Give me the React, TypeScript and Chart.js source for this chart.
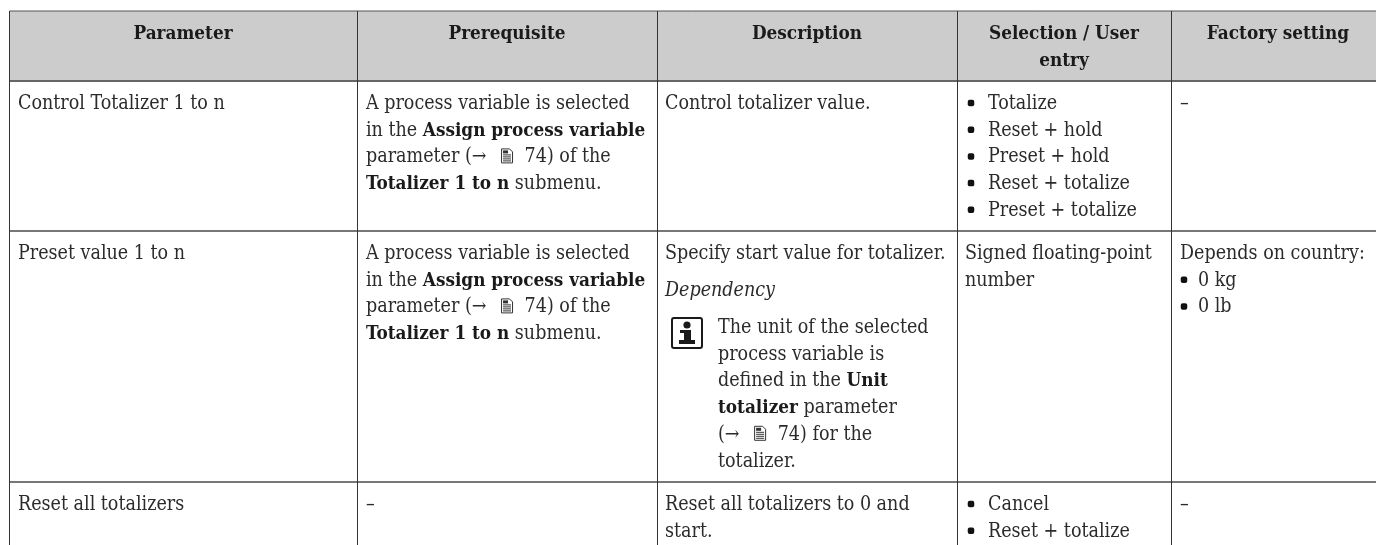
import React, { useEffect, useRef } from "react";
import { Chart, registerables } from "chart.js";

Chart.register(...registerables);

// ---- table content ----
const columnHeaders = ["Parameter", "Prerequisite", "Description", "Selection / User|entry", "Factory setting"];
const parameterNames = ["Control Totalizer 1 to n", "Preset value 1 to n", "Reset all totalizers"];
const prerequisiteLines = [
  "A process variable is selected",
  "in the **Assign process variable**",
  "parameter (→ {doc} 74) of the",
  "**Totalizer 1 to n** submenu.",
];
const noPrerequisite = "–";
const controlDescription = "Control totalizer value.";
const presetDescription = "Specify start value for totalizer.";
const dependencyLabel = "Dependency";
const presetNoteLines = [
  "The unit of the selected",
  "process variable is",
  "defined in the **Unit**",
  "**totalizer** parameter",
  "(→ {doc} 74) for the",
  "totalizer.",
];
const resetDescriptionLines = ["Reset all totalizers to 0 and", "start."];
const controlOptions = ["Totalize", "Reset + hold", "Preset + hold", "Reset + totalize", "Preset + totalize"];
const presetEntryLines = ["Signed floating-point", "number"];
const resetOptions = ["Cancel", "Reset + totalize"];
const factoryDash = "–";
const presetFactoryTitle = "Depends on country:";
const presetFactoryOptions = ["0 kg", "0 lb"];

// ---- table geometry (page pixels) ----
const WIDTH = 1376;
const HEIGHT = 545;
const columnEdges = [9.5, 357.5, 657.5, 957.5, 1171.5];
const tableRight = 1376;
const tableTop = 11;
const headerBottom = 81;
const rowRules = [231, 482];
const columnText = [18, 366, 665, 965, 1180];
const columnCentres = [183, 507, 807, 1064, 1278];
const LINE = 26.7;
const row1 = 109;
const row2 = 259;
const row3 = 510;
const bulletX = 971;
const bulletTextX = 988;
const factoryBulletX = 1184;
const factoryBulletTextX = 1198;
const noteX = 718;

const BODY = "DejaVu Serif Condensed";
const SIZE = 19.5;
const BOLD_SIZE = 18.8;
const INK = "#2b2b2b";

type Placed = { x: number; y: number; text: string; align?: "center" | "left"; heading?: boolean; italic?: boolean };

const placedText: Placed[] = [];
columnHeaders.forEach((h, i) => {
  h.split("|").forEach((part, k) =>
    placedText.push({ x: columnCentres[i], y: 39 + k * LINE, text: part, align: "center", heading: true })
  );
});
const stack = (x: number, y: number, lines: string[]) =>
  lines.forEach((text, i) => placedText.push({ x, y: y + i * LINE, text }));
stack(columnText[0], row1, [parameterNames[0]]);
stack(columnText[0], row2, [parameterNames[1]]);
stack(columnText[0], row3, [parameterNames[2]]);
stack(columnText[1], row1, prerequisiteLines);
stack(columnText[1], row2, prerequisiteLines);
stack(columnText[1], row3, [noPrerequisite]);
stack(columnText[2], row1, [controlDescription]);
stack(columnText[2], row2, [presetDescription]);
placedText.push({ x: columnText[2], y: 296, text: dependencyLabel, italic: true });
stack(noteX, 333, presetNoteLines);
stack(columnText[2], row3, resetDescriptionLines);
stack(bulletTextX, row1, controlOptions);
stack(columnText[3], row2, presetEntryLines);
stack(bulletTextX, row3, resetOptions);
stack(columnText[4], row1, [factoryDash]);
stack(columnText[4], row2, [presetFactoryTitle]);
stack(factoryBulletTextX, row2 + LINE, presetFactoryOptions);
stack(columnText[4], row3, [factoryDash]);

const bulletPoints = [
  ...controlOptions.map((_, i) => ({ x: bulletX, y: row1 - 6 + i * LINE })),
  ...resetOptions.map((_, i) => ({ x: bulletX, y: row3 - 6 + i * LINE })),
  ...presetFactoryOptions.map((_, i) => ({ x: factoryBulletX, y: row2 + LINE - 6 + i * LINE })),
];

function drawDoc(ctx: CanvasRenderingContext2D, x: number, base: number) {
  ctx.save();
  ctx.strokeStyle = "#333";
  ctx.lineWidth = 1;
  const top = base - 14;
  ctx.beginPath();
  ctx.moveTo(x + 0.5, top + 0.5);
  ctx.lineTo(x + 8.5, top + 0.5);
  ctx.lineTo(x + 11.5, top + 3.5);
  ctx.lineTo(x + 11.5, base + 0.5);
  ctx.lineTo(x + 0.5, base + 0.5);
  ctx.closePath();
  ctx.stroke();
  ctx.fillStyle = "#333";
  ctx.fillRect(x + 2, top + 2, 5, 3);
  [6, 8, 10, 12].forEach((d) => ctx.fillRect(x + 2, top + d, 8, 1));
  ctx.restore();
}

function drawInfo(ctx: CanvasRenderingContext2D, x: number, y: number) {
  ctx.save();
  ctx.strokeStyle = "#1a1a1a";
  ctx.lineWidth = 2;
  ctx.beginPath();
  ctx.roundRect(x + 1, y + 1, 30, 30, 2);
  ctx.stroke();
  ctx.fillStyle = "#1a1a1a";
  ctx.beginPath();
  ctx.arc(x + 16, y + 8, 3.6, 0, Math.PI * 2);
  ctx.fill();
  ctx.fillRect(x + 9, y + 13, 11, 3);
  ctx.fillRect(x + 13, y + 13, 7, 11);
  ctx.fillRect(x + 8, y + 23, 16, 4);
  ctx.restore();
}

function drawRich(ctx: CanvasRenderingContext2D, p: Placed, xs: (v: number) => number, ys: (v: number) => number) {
  const y = ys(p.y);
  if (p.align === "center" || p.heading) {
    ctx.font = `bold ${BOLD_SIZE}px "${BODY}"`;
    ctx.textAlign = "center";
    ctx.fillStyle = "#1a1a1a";
    ctx.fillText(p.text, xs(p.x), y);
    ctx.textAlign = "left";
    return;
  }
  let x = xs(p.x);
  const tokens = p.text.split(/(\*\*[^*]+\*\*|\{doc\})/).filter(Boolean);
  tokens.forEach((t) => {
    if (t === "{doc}") {
      drawDoc(ctx, x + 9, y);
      x += 27;
      return;
    }
    const bold = t.startsWith("**");
    const s = bold ? t.slice(2, -2) : t;
    ctx.font = `${p.italic ? "italic " : ""}${bold ? "bold " : ""}${bold ? BOLD_SIZE : SIZE}px "${BODY}"`;
    ctx.fillStyle = bold ? "#1a1a1a" : INK;
    ctx.fillText(s, x, y);
    x += ctx.measureText(s).width;
  });
}

const tableTextPlugin = {
  id: "tableText",
  afterDatasetsDraw(chart: any) {
    const { ctx, scales } = chart;
    const xs = (v: number) => scales.x.getPixelForValue(v);
    const ys = (v: number) => scales.y.getPixelForValue(v);
    ctx.save();
    ctx.textBaseline = "alphabetic";
    placedText.forEach((p) => drawRich(ctx, p, xs, ys));
    drawInfo(ctx, xs(671), ys(317));
    ctx.restore();
  },
};

const rule = (x1: number, y1: number, x2: number, y2: number, color: string, width: number) => ({
  type: "scatter" as const,
  data: [
    { x: x1, y: y1 },
    { x: x2, y: y2 },
  ],
  showLine: true,
  borderColor: color,
  borderWidth: width,
  pointRadius: 0,
  clip: false,
});

export default function App() {
  const ref = useRef<HTMLCanvasElement>(null);
  useEffect(() => {
    document.body.style.margin = "0";
    const chart = new Chart(ref.current!, {
      type: "scatter",
      data: {
        datasets: [
          {
            type: "scatter",
            data: bulletPoints,
            pointStyle: "rectRounded",
            pointRadius: 3.8,
            backgroundColor: "#111111",
            borderWidth: 0,
          },
          ...columnEdges.map((x) => rule(x, tableTop, x, HEIGHT, "#333333", 1)),
          rule(columnEdges[0], tableTop, tableRight, tableTop, "#555555", 1),
          rule(columnEdges[0], headerBottom, tableRight, headerBottom, "#666666", 2),
          ...rowRules.map((y) => rule(columnEdges[0], y, tableRight, y, "#777777", 2)),
          {
            type: "line",
            data: [
              { x: columnEdges[0], y: tableTop },
              { x: tableRight, y: tableTop },
            ],
            fill: { value: headerBottom },
            backgroundColor: "#cccccc",
            borderWidth: 0,
            pointRadius: 0,
          },
        ] as any,
      },
      options: {
        responsive: false,
        animation: false,
        layout: { padding: 0, autoPadding: false },
        scales: {
          x: { type: "linear", min: 0, max: WIDTH, display: false },
          y: { type: "linear", min: 0, max: HEIGHT, reverse: true, display: false },
        },
        plugins: { legend: { display: false }, tooltip: { enabled: false } },
      },
      plugins: [tableTextPlugin],
    });
    return () => chart.destroy();
  }, []);
  return <canvas ref={ref} width={WIDTH} height={HEIGHT} style={{ display: "block" }} />;
}
